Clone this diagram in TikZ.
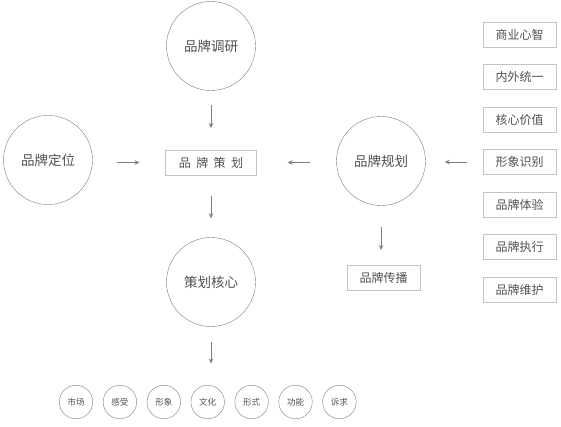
\documentclass[tikz,border=0pt]{standalone}
\usepackage{fontspec}
\setmainfont{Noto Sans CJK SC}
\usetikzlibrary{arrows.meta,positioning}
\definecolor{cLine}{RGB}{125,125,125}
\definecolor{cBox}{RGB}{195,195,195}
\definecolor{cText}{RGB}{80,80,80}
\tikzset{
  bigcirc/.style={circle,draw=cLine,minimum size=89pt,inner sep=0pt,
                  text=cText,font=\fontsize{13.5}{15}\selectfont},
  smallcirc/.style={circle,draw=cLine,minimum size=33.5pt,inner sep=0pt,
                    text=cText,font=\fontsize{8.5}{10}\selectfont},
  tagbox/.style={rectangle,draw=cBox,minimum width=73pt,minimum height=25pt,
                 inner sep=0pt,outer sep=0pt,text=cText,
                 font=\fontsize{12}{14}\selectfont},
  arr/.style={-{Stealth[length=5pt,width=4.5pt]},line width=0.9pt,color=cLine}
}
\begin{document}
\begin{tikzpicture}[x=1pt,y=-1pt]
  \useasboundingbox (0,0) rectangle (561,427);

  \node[bigcirc] (yanjiu) at (211,46) {品牌调研};
  \node[bigcirc] (dingwei) at (48,160) {品牌定位};
  \node[bigcirc] (guihua) at (381,161) {品牌规划};
  \node[bigcirc] (hexin) at (211,282) {策划核心};

  \node[tagbox,minimum width=91pt] (cehua) at (211,162.5) {品\hspace{0.45em}牌\hspace{0.45em}策\hspace{0.45em}划};
  \node[tagbox] (chuanbo) at (383.5,277.5) {品牌传播};

  % right column
  \node[tagbox] (shangye) at (519.5,34.5) {商业心智};
  \node[tagbox,below=17.5pt of shangye] (neiwai) {内外统一};
  \node[tagbox,below=17.5pt of neiwai] (jiazhi) {核心价值};
  \node[tagbox,below=17.5pt of jiazhi] (xingxiang) {形象识别};
  \node[tagbox,below=17.5pt of xingxiang] (tiyan) {品牌体验};
  \node[tagbox,below=17.5pt of tiyan] (zhixing) {品牌执行};
  \node[tagbox,below=17.5pt of zhixing] (weihu) {品牌维护};

  % bottom row
  \node[smallcirc] (shichang) at (76,402) {市场};
  \node[smallcirc,right=10pt of shichang] (ganshou) {感受};
  \node[smallcirc,right=10pt of ganshou] (xiang) {形象};
  \node[smallcirc,right=10pt of xiang] (wenhua) {文化};
  \node[smallcirc,right=10pt of wenhua] (xingshi) {形式};
  \node[smallcirc,right=10pt of xingshi] (gongneng) {功能};
  \node[smallcirc,right=10pt of gongneng] (suqiu) {诉求};

  \draw[arr,shorten <=14.5pt,shorten >=22pt] (yanjiu) -- (cehua);
  \draw[arr,shorten <=24pt,shorten >=26pt] (dingwei.east |- cehua) -- (cehua.west);
  \draw[arr,shorten <=26pt,shorten >=31pt] (guihua.west |- cehua) -- (cehua.east);
  \draw[arr,shorten <=16pt,shorten >=19pt] (xingxiang.west) -- (guihua.east |- xingxiang);
  \draw[arr,shorten <=21pt,shorten >=19pt] (cehua) -- (hexin);
  \draw[arr,shorten <=21.5pt,shorten >=15pt] (guihua) -- (guihua |- chuanbo.north);
  \draw[arr,shorten <=15pt,shorten >=21.5pt] (hexin) -- (hexin |- wenhua.north);

\end{tikzpicture}
\end{document}
